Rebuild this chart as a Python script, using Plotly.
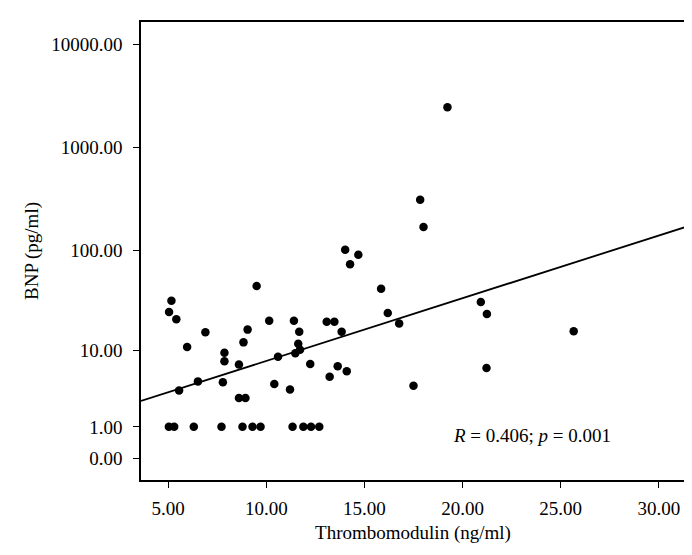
import numpy as np
import plotly.graph_objects as go

# Thrombomodulin (ng/ml) and BNP (pg/ml) per patient
tm = [17.84, 18.01, 14.02, 14.69, 14.27, 9.51, 15.85, 5.17, 5.05, 5.42,
      16.19, 10.15, 11.41, 13.08, 13.47, 16.77, 11.68, 13.84, 6.90, 9.05,
      8.84, 11.63, 5.97, 11.72, 11.48, 7.87, 10.60, 7.87, 8.61, 12.24,
      13.64, 14.10, 13.23, 6.52, 7.79, 10.41, 5.56, 11.21, 17.50, 8.61,
      8.94, 5.04, 5.31, 6.31, 7.72, 8.79, 9.30, 9.71, 11.34, 11.89,
      12.28, 12.70, 20.93, 21.24, 25.66, 21.22, 19.23]
bnp = [312, 170, 102, 91, 73.4, 44.9, 42.2, 32.1, 24.8, 20.9,
       24.2, 20.2, 20.2, 19.7, 19.7, 18.9, 15.6, 15.6, 15.4, 16.4,
       12.1, 11.7, 10.8, 10.1, 9.3, 9.4, 8.5, 7.6, 7.0, 7.1,
       6.7, 5.9, 5.1, 4.5, 4.4, 4.2, 3.5, 3.6, 4.0, 2.8,
       2.8, 1, 1, 1, 1, 1, 1, 1, 1, 1,
       1, 1, 31.2, 23.6, 15.8, 6.4, 2445]

# regression in log10(BNP + 1) space
FIT_INTERCEPT = 0.332
FIT_SLOPE = 0.0606

y_tick_values = [0, 1, 10, 100, 1000, 10000]
x_tick_values = [5, 10, 15, 20, 25, 30]

X_RANGE = [3.62, 31.33]
Y_RANGE = [-0.2126, 4.213]

FONT = "Liberation Serif"

y_plot = np.log10(np.array(bnp) + 1)
line_x = np.array(X_RANGE)
line_y = FIT_INTERCEPT + FIT_SLOPE * line_x

fig = go.Figure()

fig.add_trace(go.Scatter(
    x=line_x, y=line_y, mode="lines",
    line=dict(color="black", width=1.8),
    showlegend=False, hoverinfo="skip"
))

fig.add_trace(go.Scatter(
    x=tm, y=y_plot, mode="markers",
    marker=dict(color="black", size=8.5),
    showlegend=False
))

fig.add_annotation(
    x=0.57, y=0.098, xref="paper", yref="paper",
    xanchor="left", yanchor="middle", showarrow=False,
    text="<i>R</i> = 0.406; <i>p</i> = 0.001",
    font=dict(family=FONT, size=19, color="black")
)

axis_common = dict(
    showline=True, linecolor="black", linewidth=1.5, mirror=True,
    showgrid=False, zeroline=False,
    ticks="outside", ticklen=6, tickwidth=1.2, tickcolor="black",
    tickfont=dict(family=FONT, size=19, color="black"),
)

fig.update_xaxes(
    range=X_RANGE,
    tickvals=x_tick_values,
    ticktext=[f"{v:.2f}" for v in x_tick_values],
    ticklabelstandoff=4,
    title=dict(text="Thrombomodulin (ng/ml)", standoff=8,
               font=dict(family=FONT, size=19, color="black")),
    **axis_common
)
fig.update_yaxes(
    range=Y_RANGE,
    tickvals=[np.log10(v + 1) for v in y_tick_values],
    ticktext=[f"{v:.2f}" for v in y_tick_values],
    ticklabelstandoff=7,
    title=dict(text="BNP (pg/ml)", standoff=8,
               font=dict(family=FONT, size=19, color="black")),
    **axis_common
)

fig.update_layout(
    width=692, height=555,
    margin=dict(l=133, r=15, t=14, b=83),
    plot_bgcolor="white", paper_bgcolor="white",
    showlegend=False
)

fig.write_html("out.html")
